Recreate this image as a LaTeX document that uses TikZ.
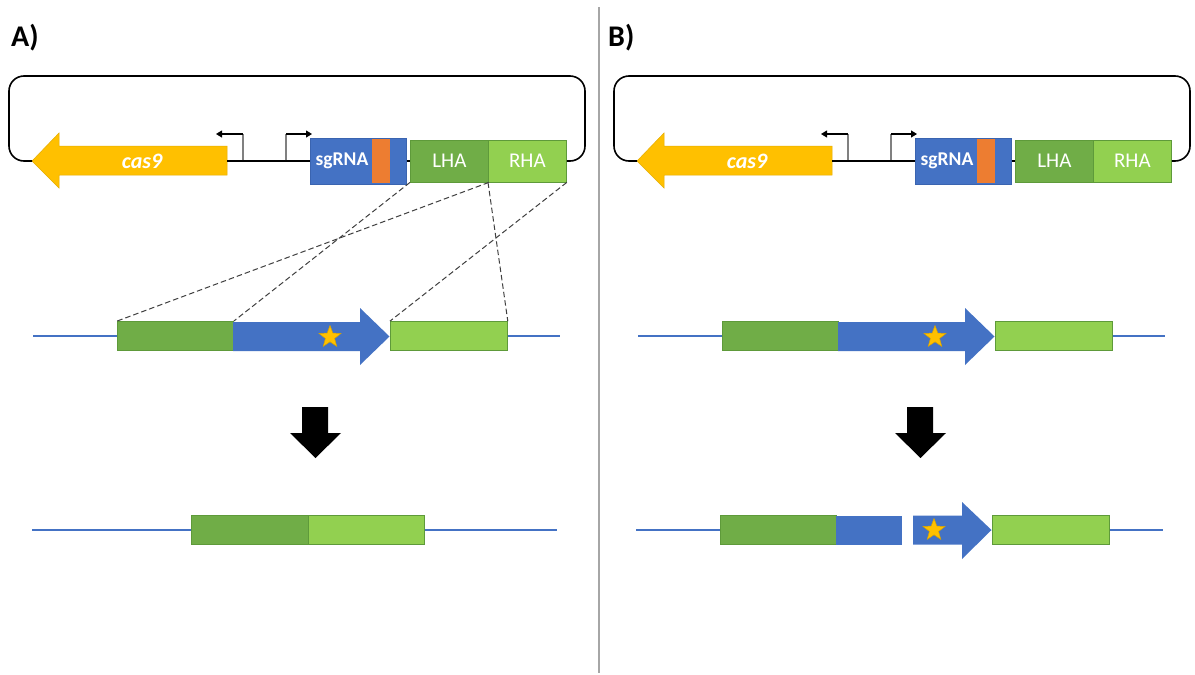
\documentclass[tikz,border=0pt]{standalone}
\usepackage{fontspec}
\setmainfont{Carlito}
\usetikzlibrary{shapes.geometric,arrows.meta}

\definecolor{cYel}{HTML}{FFC000}
\definecolor{cStarEdge}{HTML}{D9A300}
\definecolor{cBlue}{HTML}{4472C4}
\definecolor{cBEdge}{HTML}{3A64B0}
\definecolor{cOrange}{HTML}{ED7D31}
\definecolor{cDG}{HTML}{70AD47}
\definecolor{cLG}{HTML}{92D050}
\definecolor{cGEdge}{HTML}{5E9A3A}
\definecolor{cDash}{HTML}{404040}
\definecolor{cDiv}{HTML}{A6A6A6}
\definecolor{cStem}{HTML}{808080}

\tikzset{
  backbone/.style={draw=black, line width=1.6},
  casarrow/.style={fill=cYel, draw=cYel!90!black, line width=0.5},
  casname/.style={text=white, font=\bfseries\itshape\fontsize{22}{26}\selectfont, inner sep=0},
  sgblock/.style={fill=cBlue, draw=cBEdge, line width=0.7, inner sep=0, anchor=west},
  sgname/.style={text=white, font=\bfseries\fontsize{19.5}{23}\selectfont, inner sep=0},
  armbox/.style={draw=cGEdge, line width=0.8, inner sep=0, anchor=west, minimum height=42,
    minimum width=78, text=white, font=\fontsize{21}{25}\selectfont},
  lhabox/.style={armbox, fill=cDG},
  rhabox/.style={armbox, fill=cLG},
  dgbox/.style={draw=cGEdge, line width=0.8, fill=cDG, inner sep=0, anchor=west, minimum height=29},
  lgbox/.style={draw=cGEdge, line width=0.8, fill=cLG, inner sep=0, anchor=west, minimum height=29},
  bluearrow/.style={fill=cBlue},
  dnaline/.style={draw=cBlue, line width=1.2},
  goldstar/.style={star, star points=5, star point ratio=2.4, fill=cYel, draw=cStarEdge,
    line width=0.5, minimum size=23, inner sep=0},
  promstem/.style={draw=cStem, line width=1.3},
  promtip/.style={draw=black, line width=1.1, -{Triangle[length=6,width=7]}},
  homology/.style={draw=cDash, line width=1.0, dash pattern=on 5.5pt off 3pt},
  downarrow/.style={fill=black},
  panelname/.style={font=\bfseries\fontsize{30}{36}\selectfont, anchor=base west, inner sep=0}
}

% Donor plasmid: cas9, two promoters, sgRNA cassette and homology arms
\newcommand\plasmidrow[2]{%
  \begin{scope}[xshift=#2]
    \draw[casarrow] (227,146) -- (59,146) -- (59,133) -- (32,161) -- (59,188) -- (59,175)
      -- (227,175) -- cycle;
    \node[casname] (#1cas) at (142,161) {cas9};
    \node[sgblock, minimum width=96, minimum height=46] (#1sg) at (310,161) {};
    \fill[cOrange] (372,138.6) rectangle (390,183.4);
    \node[sgname] (#1sgt) at (342,161) {sgRNA};
    \node[lhabox] (#1lha) at (410,161) {LHA};
    \node[rhabox] (#1rha) at (488,161) {RHA};
    \draw[backbone, rounded corners=15] (32,161) -- (9,161) -- (9,76) -- (585,76)
      -- (585,161) -- (#1rha.east);
    \draw[backbone] (227,161) -- (#1sg.west);
    \draw[backbone] (#1sg.east) -- (#1lha.west);
    \draw[promstem] (243,160) -- (243,134);
    \draw[promtip] (243,134) -- (216,134);
    \draw[promstem] (286,160) -- (286,134);
    \draw[promtip] (286,134) -- (312,134);
  \end{scope}}

% Target locus with the marked gene between the homology regions
\newcommand\locusrow[2]{%
  \begin{scope}[xshift=#2]
    \node[dgbox, minimum width=116] (#1dg) at (117,336) {};
    \node[lgbox, minimum width=117] (#1lg) at (390,336) {};
    \draw[dnaline] (33,336) -- (#1dg.west);
    \draw[dnaline] (#1lg.east) -- (560,336);
    \fill[bluearrow] (233,322) -- (360,322) -- (360,308) -- (389.5,336.5) -- (360,365)
      -- (360,351) -- (233,351) -- cycle;
    \node[goldstar] (#1star) at (330,337) {};
  \end{scope}}

% Block arrow between locus and outcome
\newcommand\resultarrow[1]{%
  \begin{scope}[xshift=#1]
    \fill[downarrow] (302,407) -- (328,407) -- (328,433) -- (341,433) -- (315.5,458)
      -- (290,433) -- (302,433) -- cycle;
  \end{scope}}

\begin{document}
\begin{tikzpicture}[x=1pt, y=-1pt]
  \useasboundingbox (0,0) rectangle (1195,675);
  \fill[white] (0,0) rectangle (1195,675);

  % panel divider
  \draw[cDiv, line width=2.6] (599,7) -- (599,673);

  \node[panelname] (labA) at (11,46) {A)};
  \node[panelname] (labB) at (608,46) {B)};

  % ---------- panel A ----------
  \plasmidrow{a}{0}
  \locusrow{a}{0}
  \draw[homology] (alha.south west) -- (adg.north east);
  \draw[homology] (alha.south east) -- (adg.north west);
  \draw[homology] (arha.south west) -- (alg.north east);
  \draw[homology] (arha.south east) -- (alg.north west);
  \resultarrow{0}

  % deletion outcome: arms joined directly
  \node[dgbox, minimum width=117] (aodg) at (191,530) {};
  \node[lgbox, minimum width=116] (aolg) at (308,530) {};
  \draw[dnaline] (32,530) -- (aodg.west);
  \draw[dnaline] (aolg.east) -- (557,530);

  % ---------- panel B ----------
  \plasmidrow{b}{605}
  \locusrow{b}{605}
  \resultarrow{605}

  % disruption outcome: gene interrupted by a break
  \node[dgbox, minimum width=116] (bodg) at (720,530) {};
  \node[lgbox, minimum width=117] (bolg) at (992,530) {};
  \draw[dnaline] (636,530) -- (bodg.west);
  \draw[dnaline] (bolg.east) -- (1163,530);
  \fill[bluearrow] (836,515.5) rectangle (902,544.5);
  \fill[bluearrow] (913,515.5) -- (962,515.5) -- (962,502) -- (991.5,530) -- (962,559)
    -- (962,544.5) -- (913,544.5) -- cycle;
  \node[goldstar] (bostar) at (934,530) {};
\end{tikzpicture}
\end{document}
